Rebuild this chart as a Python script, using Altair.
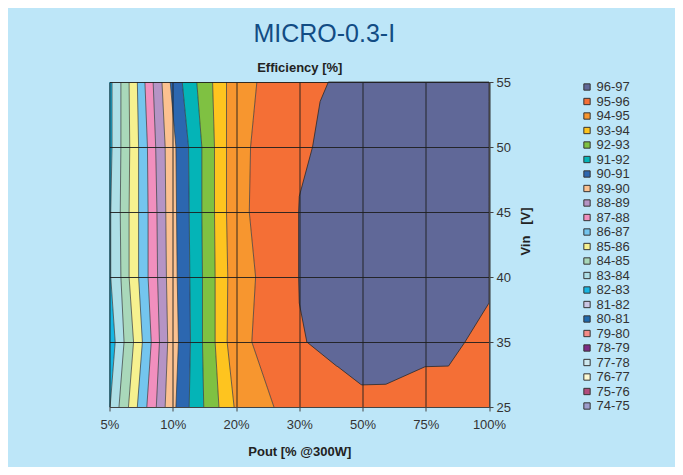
import altair as alt
import pandas as pd

# ---------------- data ----------------
pout_labels = ["5%", "10%", "20%", "30%", "50%", "75%", "100%"]   # x categories (index 0..6)
vin_labels = ["25", "35", "40", "45", "50", "55"]                 # y categories (index 0..5)
vin_rows = [0, 1, 2, 3, 4, 5]

band_labels = ["96-97", "95-96", "94-95", "93-94", "92-93", "91-92", "90-91",
               "89-90", "88-89", "87-88", "86-87", "85-86", "84-85", "83-84",
               "82-83", "81-82", "80-81", "79-80", "78-79", "77-78", "76-77",
               "75-76", "74-75"]
band_colors = ["#606898", "#f46f36", "#f7962f", "#fec41f", "#7fc142", "#04b4b7",
               "#2c67b0", "#fbc190", "#b594c5", "#f18fbe", "#74c5ee", "#f6f18f",
               "#a9d8ba", "#aedfe7", "#17b6e3", "#cbc6e3", "#1f69ad", "#f38b87",
               "#7c2b85", "#cfe9ef", "#fdf9d2", "#b14c7c", "#9d9dcc"]

# contour edges: x position in category units (0 = 5% ... 6 = 100%) at each Vin row
edge_83 = [0.01, 0.09, 0.02, 0.02, 0.04, 0.04]
edge_84 = [0.15, 0.23, 0.18, 0.17, 0.18, 0.18]
edge_85 = [0.30, 0.38, 0.31, 0.31, 0.32, 0.31]
edge_86 = [0.44, 0.52, 0.46, 0.46, 0.46, 0.44]
edge_87 = [0.59, 0.66, 0.61, 0.61, 0.60, 0.56]
edge_88 = [0.74, 0.79, 0.76, 0.75, 0.73, 0.69]
edge_89 = [0.88, 0.92, 0.90, 0.89, 0.88, 0.83]
edge_90 = [1.05, 1.09, 1.07, 1.06, 1.05, 0.96]
edge_91 = [1.26, 1.28, 1.27, 1.26, 1.25, 1.15]
edge_92 = [1.49, 1.47, 1.47, 1.46, 1.46, 1.38]
edge_93 = [1.73, 1.67, 1.67, 1.66, 1.66, 1.63]
edge_94 = [1.97, 1.86, 1.87, 1.85, 1.85, 1.85]
edge_95 = [2.60, 2.25, 2.31, 2.21, 2.23, 2.33]
edges = [edge_83, edge_84, edge_85, edge_86, edge_87, edge_88, edge_89,
         edge_90, edge_91, edge_92, edge_93, edge_94, edge_95]
edge_names = ["83", "84", "85", "86", "87", "88", "89", "90", "91", "92", "93", "94", "95"]
stripe_bands = ["82-83", "83-84", "84-85", "85-86", "86-87", "87-88", "88-89",
                "89-90", "90-91", "91-92", "92-93", "93-94", "94-95", "95-96"]

# 96-97 region (category units)
blue_y = [5.0, 4.70, 4.0, 3.24, 3.0, 2.0, 1.6, 1.0, 0.63, 0.62, 0.35, 0.34]
blue_left = [3.46, 3.33, 3.21, 3.00, 2.99, 2.99, 3.00, 3.12, 3.59, 3.61, 3.97, 3.99]
blue_right = [6.0, 6.0, 6.0, 6.0, 6.0, 6.0, 6.0, 5.62, 5.36, 4.99, 4.37, 3.99]

# ---------------- tables ----------------
x_min, x_max = 0, len(pout_labels) - 1
left_edges = [[x_min] * len(vin_rows)] + edges
right_edges = edges + [[x_max] * len(vin_rows)]
stripe_rows = []
for band, le, re in zip(stripe_bands, left_edges, right_edges):
    for yi, a, b in zip(vin_rows, le, re):
        stripe_rows.append({"band": band, "yi": yi, "xl": a, "xr": b})
stripe_df = pd.DataFrame(stripe_rows)

line_rows = []
for name, e in zip(edge_names, edges):
    for yi, a in zip(vin_rows, e):
        line_rows.append({"level": name, "yi": yi, "xl": a})
line_df = pd.DataFrame(line_rows)

blue_df = pd.DataFrame({"band": "96-97", "yi": blue_y, "xl": blue_left, "xr": blue_right})

# ---------------- encodings ----------------
font = "Liberation Sans"
x_scale = alt.Scale(domain=[x_min, x_max], nice=False, zero=False)
y_scale = alt.Scale(domain=[0, len(vin_rows) - 1], nice=False, zero=False)
x_expr = "[" + ",".join(f"'{t}'" for t in pout_labels) + "][datum.value]"
y_expr = "[" + ",".join(f"'{t}'" for t in vin_labels) + "][datum.value]"

x_axis = alt.Axis(values=list(range(len(pout_labels))), labelExpr=x_expr,
                  title="Pout [% @300W]", grid=True, gridColor="#1e1e1e",
                  gridOpacity=0.9, gridWidth=1, tickSize=4, tickColor="#444",
                  domainColor="#444", labelFontSize=13, labelColor="#333",
                  labelFont=font, labelPadding=7, labelFlush=False, labelOverlap=False,
                  titleFont=font, titleFontSize=13,
                  titleFontWeight="bold", titleColor="#222", titlePadding=14, zindex=1)
y_axis = alt.Axis(orient="right", values=vin_rows, labelExpr=y_expr,
                  title="Vin\u00a0\u00a0\u00a0[V]", grid=True, gridColor="#1e1e1e",
                  gridOpacity=0.9, gridWidth=1, tickSize=4, tickColor="#444",
                  domainColor="#444", labelFontSize=13, labelColor="#333",
                  labelFont=font, labelPadding=3, labelFlush=False,
                  titleFont=font, titleFontSize=13,
                  titleFontWeight="bold", titleColor="#222", titleAngle=270,
                  titleX=36, titleY=149, titleAlign="center", titleBaseline="middle",
                  zindex=1)
legend = alt.Legend(title=None, orient="none", legendX=471, legendY=-1.5,
                    symbolType="square", symbolSize=40, symbolStrokeColor="#333",
                    symbolStrokeWidth=1, symbolOpacity=1, labelFontSize=13,
                    labelColor="#333", labelFont=font, rowPadding=0.5, padding=0,
                    labelOffset=3)
color = alt.Color("band:N", scale=alt.Scale(domain=band_labels, range=band_colors),
                  legend=legend)
y_enc = alt.Y("yi:Q", scale=y_scale, axis=y_axis)

stripes = alt.Chart(stripe_df).mark_area(orient="horizontal", opacity=1).encode(
    y=y_enc,
    x=alt.X("xl:Q", scale=x_scale, axis=x_axis, stack=None),
    x2="xr:Q",
    color=color,
)

blue = alt.Chart(blue_df).mark_area(orient="horizontal", opacity=1, stroke="#2a2a2a",
                                    strokeWidth=0.8).encode(
    y=y_enc,
    x=alt.X("xl:Q", scale=x_scale, axis=None, stack=None),
    x2="xr:Q",
    color=color,
)

lines = alt.Chart(line_df).mark_line(color="#333333", strokeWidth=0.8, opacity=0.85).encode(
    y=y_enc,
    x=alt.X("xl:Q", scale=x_scale, axis=None),
    detail="level:N",
    order=alt.Order("yi:Q"),
)

top_title = alt.Chart(line_df).mark_point(opacity=0).encode(
    x=alt.X("xl:Q", scale=x_scale,
            axis=alt.Axis(orient="top", title="Efficiency [%]", labels=False,
                          ticks=False, domain=False, grid=False, titleFont=font,
                          titleFontSize=13, titleFontWeight="bold", titleColor="#222",
                          titlePadding=8)),
)

chart = alt.layer(stripes, blue, lines, top_title).resolve_axis(x="independent").properties(
    width=379.5,
    height=325,
    autosize=alt.AutoSizeParams(type="none"),
    padding={"left": 101.5, "top": 74, "right": 186, "bottom": 60},
    background="#bde6f8",
    title=alt.TitleParams("MICRO-0.3-I", fontSize=25, font=font, fontWeight="normal",
                          color="#124c84", anchor="middle", frame="group", dx=25,
                          offset=14),
).configure_view(stroke="#555", strokeWidth=1)

chart.save("out.html", embed_options={"renderer": "svg", "actions": False})
